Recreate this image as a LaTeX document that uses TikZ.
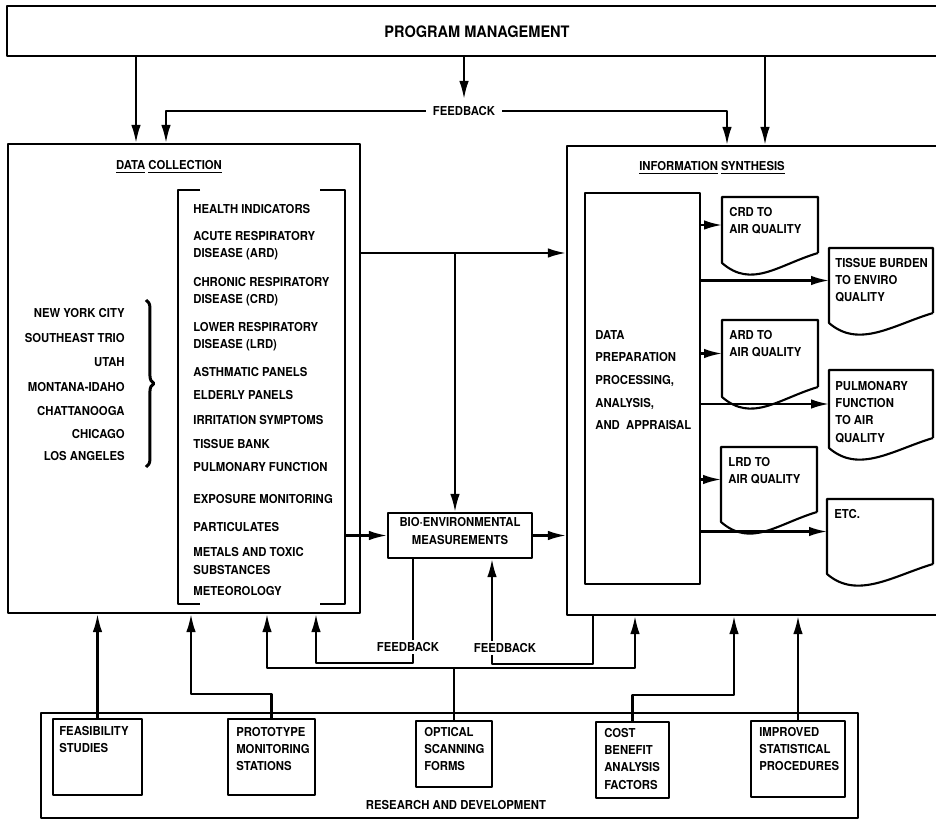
\documentclass[tikz,border=0pt]{standalone}
\usepackage{fontspec}
\setmainfont{TeX Gyre Heros}[FakeStretch=0.92]
\usetikzlibrary{arrows.meta, positioning, fit, calc, decorations.pathreplacing}

\tikzset{
  txt/.style={font=\fontsize{7}{9.8}\selectfont\bfseries, inner sep=0pt, align=left},
  box/.style={draw, line width=1.2pt, inner sep=0pt, line join=round},
  area/.style={draw=none, inner sep=0pt, outer sep=0pt},
  conn/.style={line width=1.2pt, line join=round},
  arr/.style={conn, -{Latex[length=3.6mm,width=1.9mm]}},
}

\newcommand{\docout}[1]{\draw[box] (#1.south east) -- (#1.north east) -- (#1.north west)
  -- ($(#1.south west)+(0,10)$) .. controls +(30,26) and +(-40,12) .. (#1.south east);}

\begin{document}
\begin{tikzpicture}[x=0.02cm, y=-0.02cm]
\useasboundingbox (0,0) rectangle (936,820);
\clip (0,0) rectangle (936,820);

\node[box, fit={(7,6) (960,56)}] (pm) {};
\node[txt, font=\fontsize{9}{11}\selectfont\bfseries] (pmt) at (477,32) {PROGRAM MANAGEMENT};
\node[txt, inner sep=4pt] (fb) at (464,111) {FEEDBACK};

\node[box, fit={(8,144) (360,613)}] (dc) {};
\node[txt] (dct) at (169,167) {\underline{DATA} \underline{COLLECTION}};
\node[area, fit={(178,190) (345,604)}] (list) {};
\draw[conn] ($(list.north west)+(22,0)$) -- (list.north west) -- (list.south west) -- ($(list.south west)+(22,0)$);
\draw[conn] ($(list.north east)+(-25,0)$) -- (list.north east) -- (list.south east) -- ($(list.south east)+(-25,0)$);

\node[txt, anchor=west] (hi) at (193,209) {HEALTH INDICATORS};
\node[txt, anchor=west] (ard) at (193,246) {ACUTE RESPIRATORY\\DISEASE (ARD)};
\node[txt, anchor=west] (crd) at (193,292) {CHRONIC RESPIRATORY\\DISEASE (CRD)};
\node[txt, anchor=west] (lrd) at (193,337) {LOWER RESPIRATORY\\DISEASE (LRD)};
\node[txt, anchor=west] (ap) at (193,372) {ASTHMATIC PANELS};
\node[txt, anchor=west] (ep) at (193,395) {ELDERLY PANELS};
\node[txt, anchor=west] (is1) at (193,420) {IRRITATION SYMPTOMS};
\node[txt, anchor=west] (tb1) at (193,444) {TISSUE BANK};
\node[txt, anchor=west] (pf1) at (193,467) {PULMONARY FUNCTION};
\node[txt, anchor=west] (em) at (193,499) {EXPOSURE MONITORING};
\node[txt, anchor=west] (pa) at (193,527) {PARTICULATES};
\node[txt, anchor=west] (mt) at (193,561) {METALS AND TOXIC\\SUBSTANCES};
\node[txt, anchor=west] (me) at (193,591) {METEOROLOGY};

\node[txt, anchor=east] (nyc) at (125,313) {NEW YORK CITY};
\node[txt, anchor=east] (set) at (125,338) {SOUTHEAST TRIO};
\node[txt, anchor=east] (ut) at (125,362) {UTAH};
\node[txt, anchor=east] (mi) at (125,387) {MONTANA-IDAHO};
\node[txt, anchor=east] (ch) at (125,411) {CHATTANOOGA};
\node[txt, anchor=east] (chi) at (125,434) {CHICAGO};
\node[txt, anchor=east] (la) at (125,456) {LOS ANGELES};
\draw[conn, line width=1.7pt, decorate, decoration={brace, amplitude=4.5pt}] (146,300) -- (146,467);

\node[box, txt, align=center, fit={(388,513) (532,558)}] (bio) {BIO·ENVIRONMENTAL\\MEASUREMENTS};

\node[box, fit={(567,146) (960,615)}] (is) {};
\node[txt] (ist) at (712,168) {\underline{INFORMATION} \underline{SYNTHESIS}};
\node[box, fit={(585,193) (700,584)}] (dp) {};
\node[txt, anchor=west, font=\fontsize{7}{12.9}\selectfont\bfseries] (dpt) at (595,380) {DATA\\PREPARATION\\PROCESSING,\\ANALYSIS,\\AND~ APPRAISAL};

\node[area, fit={(722,197) (818,253)}] (crdq) {};
\node[txt, anchor=north west] at ([shift={(7,10)}]crdq.north west) {CRD TO\\AIR QUALITY};
\node[area, fit={(829,248) (933,313)}] (tbq) {};
\node[txt, anchor=north west] at ([shift={(6,10)}]tbq.north west) {TISSUE BURDEN\\TO ENVIRO\\QUALITY};
\node[area, fit={(722,320) (818,387)}] (ardq) {};
\node[txt, anchor=north west] at ([shift={(7,10)}]ardq.north west) {ARD TO\\AIR QUALITY};
\node[area, fit={(829,370) (933,438)}] (pfq) {};
\node[txt, anchor=north west] at ([shift={(6,11)}]pfq.north west) {PULMONARY\\FUNCTION\\TO AIR\\QUALITY};
\node[area, fit={(721,447) (817,512)}] (lrdq) {};
\node[txt, anchor=north west] at ([shift={(7,10)}]lrdq.north west) {LRD TO\\AIR QUALITY};
\node[area, fit={(827,499) (933,564)}] (etc) {};
\node[txt, anchor=north west] at ([shift={(7,10)}]etc.north west) {ETC.};
\docout{crdq}
\docout{tbq}
\docout{ardq}
\docout{pfq}
\docout{lrdq}
\docout{etc}

\node[box, fit={(41,713) (858,818)}] (rd) {};
\node[txt] (rdt) at (456,805) {RESEARCH AND DEVELOPMENT};
\node[box, fit={(53,719) (142,795)}] (feas) {};
\node[txt, anchor=north west] at ([shift={(7,8)}]feas.north west) {FEASIBILITY\\STUDIES};
\node[box, fit={(228,719) (315,795)}] (proto) {};
\node[txt, anchor=north west] at ([shift={(9,9)}]proto.north west) {PROTOTYPE\\MONITORING\\STATIONS};
\node[box, fit={(416,721) (492,787)}] (opt) {};
\node[txt, anchor=north west] at ([shift={(9,7)}]opt.north west) {OPTICAL\\SCANNING\\FORMS};
\node[box, fit={(596,722) (669,798)}] (cost) {};
\node[txt, anchor=north west] at ([shift={(9,7)}]cost.north west) {COST\\BENEFIT\\ANALYSIS\\FACTORS};
\node[box, fit={(751,721) (845,797)}] (imp) {};
\node[txt, anchor=north west] at ([shift={(9,7)}]imp.north west) {IMPROVED\\STATISTICAL\\PROCEDURES};

\draw[arr] (pm.south -| 136,0) -- (dc.north -| 136,0);
\draw[arr] (pm.south -| fb) -- (fb);
\draw[arr] (fb) -| (dc.north -| 166,0);
\draw[arr] (fb) -| (is.north -| 727,0);
\draw[arr] (pm.south -| 765,0) -- (is.north -| 765,0);

\coordinate (split) at (455,253);
\draw[arr] (dc.east |- split) -- (is.west |- split);
\draw[arr] (split) -- (split |- bio.north);
\draw[arr] (list.east |- bio) -- (bio);
\draw[arr] (bio) -- (is.west |- bio);

\draw[arr] (dp.east |- crdq) -- (crdq);
\draw[arr] (dp.east |- tbq) -- (tbq);
\draw[arr] (dp.east |- ardq) -- (ardq);
\draw[arr] (dp.east |- pfq) -- (pfq);
\draw[arr] (dp.east |- lrdq) -- (lrdq);
\draw[arr] (dp.east |- etc) -- (etc);

\draw[arr] (feas.north) -- (dc.south -| feas.north);
\draw[arr] (proto.north) -- ++(0,-24) -| (dc.south -| 191,0);
\draw[conn] (opt.north) -- ++(0,-52) coordinate (oj);
\draw[arr] (oj) -| (dc.south -| 267,0);
\draw[arr] (oj) -| (is.south -| 635,0);
\draw[arr] (bio.south -| 413,0) -- ++(0,104) -| (dc.south -| 316,0);
\draw[arr] (is.south -| 593,0) -- ++(0,48) -| (bio.south -| 492,0);
\node[txt, fill=white, inner sep=1.5pt] (fbl) at (408,647) {FEEDBACK};
\node[txt, fill=white, inner sep=1.5pt] (fbr) at (505,648) {FEEDBACK};
\draw[arr] (cost.north) -- ++(0,-26) -| (is.south -| 734,0);
\draw[arr] (imp.north) -- (is.south -| imp.north);
\end{tikzpicture}
\end{document}
